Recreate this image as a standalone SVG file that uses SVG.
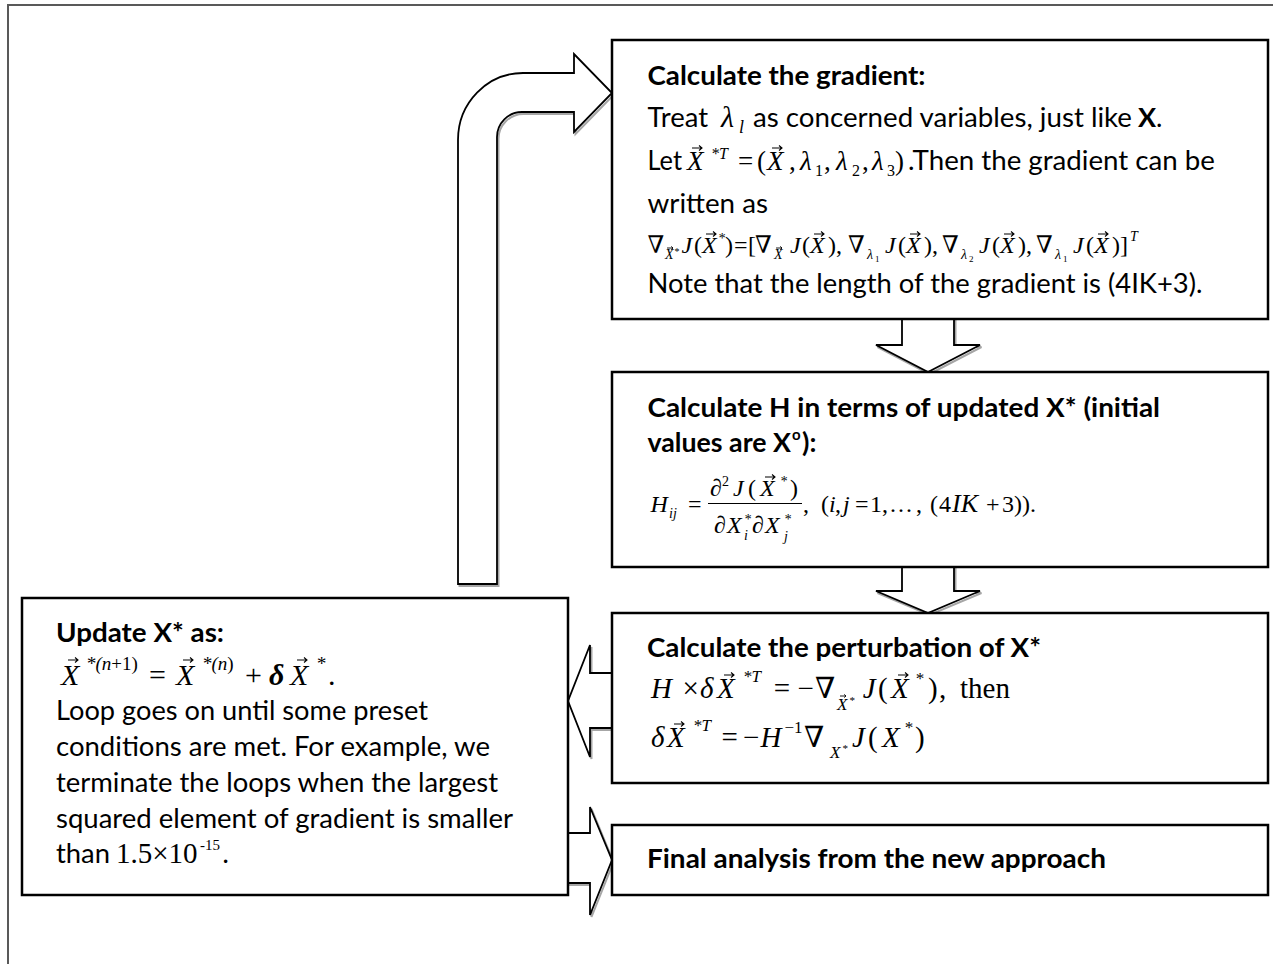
<svg xmlns="http://www.w3.org/2000/svg" width="1273" height="964" viewBox="0 0 1273 964">
<defs>
<style>
.box{fill:#fff;stroke:#000;stroke-width:2.5}
.arr{fill:#fff;stroke:#000;stroke-width:1.8;stroke-linejoin:miter}
.sh{fill:none;stroke:#a6a6a6;stroke-width:2}
.t{font-family:Lato,"Open Sans","Liberation Sans",sans-serif;font-size:27px;fill:#000}
.b{font-weight:bold}
.m{font-family:"Liberation Serif","Times New Roman","DejaVu Serif",serif;font-style:italic;fill:#000}
.u{font-style:normal}
</style>
<path id="v" d="M0,0 H10 M7,-2.5 L10,0 L7,2.5" fill="none" stroke="#000" stroke-width="1.1"/>
<path id="vs" d="M0,0 H6 M4.2,-1.6 L6,0 L4.2,1.6" fill="none" stroke="#000" stroke-width="0.9"/>
</defs>
<rect width="1273" height="964" fill="#fff"/>
<g id="frame"><path d="M8,964 V5 H1273" fill="none" stroke="#595959" stroke-width="2"/></g>

<g id="connectors">
  <path class="sh" transform="translate(1.5,2)" d="M458,584 V140 A65,67 0 0 1 523,73 H574 V54 L612,93 L574,132 V112 H522 A25,25 0 0 0 497,137 V584 Z"/>
  <path class="arr" d="M458,584 V140 A65,67 0 0 1 523,73 H574 V54 L612,93 L574,132 V112 H522 A25,25 0 0 0 497,137 V584 Z"/>
  <path class="sh" transform="translate(1.5,2)" d="M902,319 H954 V345 H980 L928,372 L876,345 H902 Z"/>
  <path class="arr" d="M902,319 H954 V345 H980 L928,372 L876,345 H902 Z"/>
  <path class="sh" transform="translate(1.5,2)" d="M902,567 H954 V591 H980 L928,613 L876,591 H902 Z"/>
  <path class="arr" d="M902,567 H954 V591 H980 L928,613 L876,591 H902 Z"/>
  <path class="sh" transform="translate(1.5,2)" d="M612,673 H590 V645 L568,701 L590,757 V728 H612 Z"/>
  <path class="arr" d="M612,673 H590 V645 L568,701 L590,757 V728 H612 Z"/>
  <path class="sh" transform="translate(1.5,2)" d="M568,833 H590 V807 L612,860 L590,915 V883 H568 Z"/>
  <path class="arr" d="M568,833 H590 V807 L612,860 L590,915 V883 H568 Z"/>
</g>

<g id="node-gradient">
  <rect class="box" x="612" y="40" width="656" height="279"/>
  <text class="t b" x="647.5" y="85" textLength="278" lengthAdjust="spacingAndGlyphs">Calculate the gradient:</text>
  <text class="t" x="647.5" y="127" textLength="60.5" lengthAdjust="spacingAndGlyphs">Treat</text>
  <text class="m" x="721" y="127" font-size="30">λ<tspan x="739" y="133" font-size="18">l</tspan></text>
  <text class="t" x="753" y="127" textLength="379" lengthAdjust="spacingAndGlyphs">as concerned variables, just like</text>
  <text class="t b" x="1138" y="127">X</text>
  <text class="t" x="1156" y="127">.</text>

  <text class="t" x="647.5" y="170" textLength="34.5" lengthAdjust="spacingAndGlyphs">Let</text>
  <text class="m" font-size="27" y="170"><tspan x="687">X</tspan><tspan x="711" y="159" font-size="16">*T</tspan><tspan class="u" x="738" y="170">=</tspan><tspan class="u" x="757">(</tspan><tspan x="767">X</tspan><tspan class="u" x="789">,</tspan><tspan x="800">λ</tspan><tspan class="u" x="815" y="176" font-size="16">1</tspan><tspan class="u" x="824" y="170">,</tspan><tspan x="836">λ</tspan><tspan class="u" x="852" y="176" font-size="16">2</tspan><tspan class="u" x="862" y="170">,</tspan><tspan x="872">λ</tspan><tspan class="u" x="887" y="176" font-size="16">3</tspan><tspan class="u" x="895" y="170">)</tspan></text>
  <use href="#v" x="692" y="148"/>
  <use href="#v" x="772" y="148"/>
  <text class="t" x="908" y="170" textLength="307" lengthAdjust="spacingAndGlyphs">.Then the gradient can be</text>

  <text class="t" x="647.5" y="213" textLength="120.5" lengthAdjust="spacingAndGlyphs">written as</text>

  <text class="m" font-size="24" y="253"><tspan class="u" x="647.5">∇</tspan><tspan x="665" y="259" font-size="14">X</tspan><tspan x="674" y="255" font-size="10">*</tspan><tspan x="681.6" y="253">J</tspan><tspan class="u" x="694">(</tspan><tspan x="702">X</tspan><tspan x="718" y="243" font-size="14">*</tspan><tspan class="u" x="725" y="253">)</tspan><tspan class="u" x="734">=</tspan><tspan class="u" x="748">[</tspan><tspan class="u" x="755">∇</tspan><tspan x="774" y="259" font-size="14">X</tspan><tspan x="790" y="253">J</tspan><tspan class="u" x="802">(</tspan><tspan x="810">X</tspan><tspan class="u" x="828">)</tspan><tspan class="u" x="836">,</tspan><tspan class="u" x="848">∇</tspan><tspan x="867" y="259" font-size="14">λ</tspan><tspan class="u" x="875" y="262" font-size="9">1</tspan><tspan x="885" y="253">J</tspan><tspan class="u" x="898">(</tspan><tspan x="906">X</tspan><tspan class="u" x="924">)</tspan><tspan class="u" x="932">,</tspan><tspan class="u" x="942">∇</tspan><tspan x="961" y="259" font-size="14">λ</tspan><tspan class="u" x="969" y="262" font-size="9">2</tspan><tspan x="979" y="253">J</tspan><tspan class="u" x="992">(</tspan><tspan x="1000">X</tspan><tspan class="u" x="1018">)</tspan><tspan class="u" x="1026">,</tspan><tspan class="u" x="1036">∇</tspan><tspan x="1055" y="259" font-size="14">λ</tspan><tspan class="u" x="1063" y="262" font-size="9">1</tspan><tspan x="1073" y="253">J</tspan><tspan class="u" x="1086">(</tspan><tspan x="1094">X</tspan><tspan class="u" x="1112">)</tspan><tspan class="u" x="1120">]</tspan><tspan x="1130" y="241" font-size="14">T</tspan></text>
  <use href="#vs" x="667" y="248"/>
  <use href="#v" x="706" y="234"/>
  <use href="#vs" x="776" y="248"/>
  <use href="#v" x="814" y="234"/>
  <use href="#v" x="910" y="234"/>
  <use href="#v" x="1004" y="234"/>
  <use href="#v" x="1098" y="234"/>

  <text class="t" x="647.5" y="293" textLength="555" lengthAdjust="spacingAndGlyphs">Note that the length of the gradient is (4IK+3).</text>
</g>

<g id="node-hessian">
  <rect class="box" x="612" y="372" width="656" height="195"/>
  <text class="t b" x="647.5" y="417" textLength="512.5" lengthAdjust="spacingAndGlyphs">Calculate H in terms of updated X* (initial</text>
  <text class="t b" x="647.5" y="452" textLength="143.5" lengthAdjust="spacingAndGlyphs">values are X</text>
  <text class="t b" x="792" y="440" style="font-size:15px">o</text>
  <text class="t b" x="802" y="452">):</text>

  <text class="m" font-size="24" y="512"><tspan x="650.5">H</tspan><tspan x="669" y="518" font-size="14">ij</tspan><tspan class="u" x="688" y="512">=</tspan></text>
  <line x1="708" y1="503.5" x2="802" y2="503.5" stroke="#000" stroke-width="1.2"/>
  <text class="m" font-size="24" y="496"><tspan x="710">∂</tspan><tspan class="u" x="722" y="486" font-size="14">2</tspan><tspan x="733" y="496">J</tspan><tspan class="u" x="748">(</tspan><tspan x="760">X</tspan><tspan x="780" y="486" font-size="14">*</tspan><tspan class="u" x="790" y="496">)</tspan></text>
  <use href="#v" x="765" y="477"/>
  <text class="m" font-size="24" y="533"><tspan x="714">∂</tspan><tspan x="727">X</tspan><tspan x="744" y="524" font-size="14">*</tspan><tspan x="744" y="540" font-size="14">i</tspan><tspan x="752" y="533">∂</tspan><tspan x="765">X</tspan><tspan x="784" y="524" font-size="14">*</tspan><tspan x="784" y="541" font-size="14">j</tspan></text>
  <text class="m" font-size="24" y="512"><tspan class="u" x="803">,</tspan><tspan class="u" x="821">(</tspan><tspan x="829">i</tspan><tspan class="u" x="835">,</tspan><tspan x="843">j</tspan><tspan class="u" x="855">=</tspan><tspan class="u" x="870 882 890 898 906 916 930">1,...,(</tspan><tspan class="u" x="939">4</tspan><tspan x="952" font-size="26">IK</tspan><tspan class="u" x="986">+</tspan><tspan class="u" x="1002">3)).</tspan></text>
</g>

<g id="node-perturbation">
  <rect class="box" x="612" y="613" width="656" height="170"/>
  <text class="t b" x="647" y="657" textLength="394" lengthAdjust="spacingAndGlyphs">Calculate the perturbation of X*</text>
  <text class="m" font-size="29" y="698"><tspan x="651">H</tspan><tspan class="u" x="682.5">×</tspan><tspan x="700">δ</tspan><tspan x="717">X</tspan><tspan x="743" y="682" font-size="17">*T</tspan><tspan class="u" x="773.7" y="698">=</tspan><tspan class="u" x="797.6">−</tspan><tspan class="u" x="815">∇</tspan><tspan x="837" y="710" font-size="17">X</tspan><tspan x="849" y="704" font-size="11">*</tspan><tspan x="862.7" y="698">J</tspan><tspan class="u" x="878">(</tspan><tspan x="891">X</tspan><tspan x="915" y="684" font-size="17">*</tspan><tspan class="u" x="928" y="698">)</tspan><tspan class="u" x="939">,</tspan><tspan class="u" x="960">then</tspan></text>
  <use href="#v" x="724" y="675"/>
  <use href="#vs" x="840" y="696"/>
  <use href="#v" x="898" y="675"/>
  <text class="m" font-size="29" y="747"><tspan x="651">δ</tspan><tspan x="667">X</tspan><tspan x="693" y="731" font-size="17">*T</tspan><tspan class="u" x="721.6" y="747">=</tspan><tspan class="u" x="743">−</tspan><tspan x="760.6">H</tspan><tspan class="u" x="784.5" y="733" font-size="17">−1</tspan><tspan class="u" x="804" y="747">∇</tspan><tspan x="830" y="758" font-size="17">X</tspan><tspan x="842" y="752" font-size="11">*</tspan><tspan x="852" y="747">J</tspan><tspan class="u" x="868">(</tspan><tspan x="882">X</tspan><tspan x="904" y="733" font-size="17">*</tspan><tspan class="u" x="915" y="747">)</tspan></text>
  <use href="#v" x="674" y="724"/>
</g>

<g id="node-final">
  <rect class="box" x="612" y="825" width="656" height="70"/>
  <text class="t b" x="647" y="868" textLength="459" lengthAdjust="spacingAndGlyphs">Final analysis from the new approach</text>
</g>

<g id="node-update">
  <rect class="box" x="22" y="598" width="546" height="297"/>
  <text class="t b" x="56" y="642" textLength="168" lengthAdjust="spacingAndGlyphs">Update X* as:</text>
  <text class="m" font-size="30" y="685"><tspan x="61">X</tspan><tspan x="86" y="670" font-size="19">*(<tspan>n</tspan><tspan class="u">+1)</tspan></tspan><tspan class="u" x="149" y="685">=</tspan><tspan x="176">X</tspan><tspan x="202" y="670" font-size="19">*(n<tspan class="u">)</tspan></tspan><tspan class="u" x="245" y="685">+</tspan><tspan x="269" font-weight="bold">δ</tspan><tspan x="290">X</tspan><tspan x="316" y="670" font-size="19">*</tspan><tspan class="u" x="328" y="685">.</tspan></text>
  <use href="#v" x="68" y="660"/>
  <use href="#v" x="183" y="660"/>
  <use href="#v" x="297" y="660"/>
  <text class="t" x="56" y="720" textLength="372" lengthAdjust="spacingAndGlyphs">Loop goes on until some preset</text>
  <text class="t" x="56" y="756" textLength="434" lengthAdjust="spacingAndGlyphs">conditions are met. For example, we</text>
  <text class="t" x="56" y="792" textLength="442" lengthAdjust="spacingAndGlyphs">terminate the loops when the largest</text>
  <text class="t" x="56" y="828" textLength="457" lengthAdjust="spacingAndGlyphs">squared element of gradient is smaller</text>
  <text class="t" x="56" y="863" textLength="54" lengthAdjust="spacingAndGlyphs">than</text>
  <text class="m u" font-size="29" y="863"><tspan x="116">1.5×10</tspan><tspan x="200" y="850" font-size="15">-15</tspan><tspan x="222" y="863">.</tspan></text>
</g>
</svg>
